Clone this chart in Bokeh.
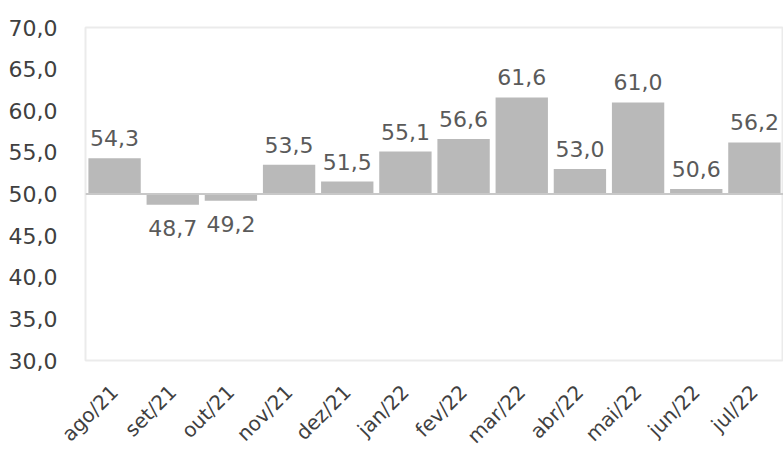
import math
from bokeh.plotting import figure
from bokeh.models import ColumnDataSource, FixedTicker, CustomJSTickFormatter, FactorRange, Span
from bokeh.core.properties import value
from bokeh.embed import file_html
from bokeh.resources import INLINE

categories = ["ago/21", "set/21", "out/21", "nov/21", "dez/21", "jan/22",
              "fev/22", "mar/22", "abr/22", "mai/22", "jun/22", "jul/22"]
values = [54.3, 48.7, 49.2, 53.5, 51.5, 55.1, 56.6, 61.6, 53.0, 61.0, 50.6, 56.2]
baseline = 50.0
y_ticks = [30, 35, 40, 45, 50, 55, 60, 65, 70]

FONT = "DejaVu Sans"
FS = "22px"
labels = [f"{v:.1f}".replace(".", ",") for v in values]
pos = [v >= baseline for v in values]

src_bar = ColumnDataSource(dict(cat=categories, top=values, bottom=[baseline] * len(values)))
src_pos = ColumnDataSource(dict(cat=[c for c, p in zip(categories, pos) if p],
                                y=[v for v, p in zip(values, pos) if p],
                                t=[l for l, p in zip(labels, pos) if p]))
src_neg = ColumnDataSource(dict(cat=[c for c, p in zip(categories, pos) if not p],
                                y=[v for v, p in zip(values, pos) if not p],
                                t=[l for l, p in zip(labels, pos) if not p]))

p = figure(x_range=FactorRange(*categories), y_range=(30, 70),
           width=783, height=462, output_backend="svg", toolbar_location=None,
           min_border_left=85, min_border_right=0, min_border_top=27, min_border_bottom=102)

p.vbar(x="cat", top="top", bottom="bottom", width=0.9, source=src_bar,
       fill_color="#b9b9b9", line_color=None)
p.add_layout(Span(location=baseline, dimension="width", line_color="#c8c8c8", line_width=2))

p.text(x="cat", y="y", text="t", source=src_pos, text_align="center", text_baseline="bottom",
       y_offset=-12, text_font_size=FS, text_color="#5a5a5a", text_font=value(FONT))
p.text(x="cat", y="y", text="t", source=src_neg, text_align="center", text_baseline="top",
       y_offset=15, text_font_size=FS, text_color="#5a5a5a", text_font=value(FONT))

p.xgrid.visible = False
p.ygrid.visible = False
p.outline_line_color = "#ebebeb"
p.outline_line_width = 2

p.yaxis.ticker = FixedTicker(ticks=y_ticks)
p.yaxis.formatter = CustomJSTickFormatter(code="return tick.toFixed(1).replace('.', ',');")
for ax in (p.xaxis[0], p.yaxis[0]):
    ax.axis_line_color = None
    ax.major_tick_line_color = None
    ax.minor_tick_line_color = None
    ax.major_label_text_font = FONT
    ax.major_label_text_color = "#404040"
p.yaxis.major_label_text_font_size = FS
p.xaxis.major_label_text_font_size = "20px"
p.yaxis.major_label_standoff = 22
p.xaxis.major_label_orientation = math.pi / 4
p.xaxis.major_label_standoff = 22

open("out.html", "w").write(file_html(p, INLINE))
